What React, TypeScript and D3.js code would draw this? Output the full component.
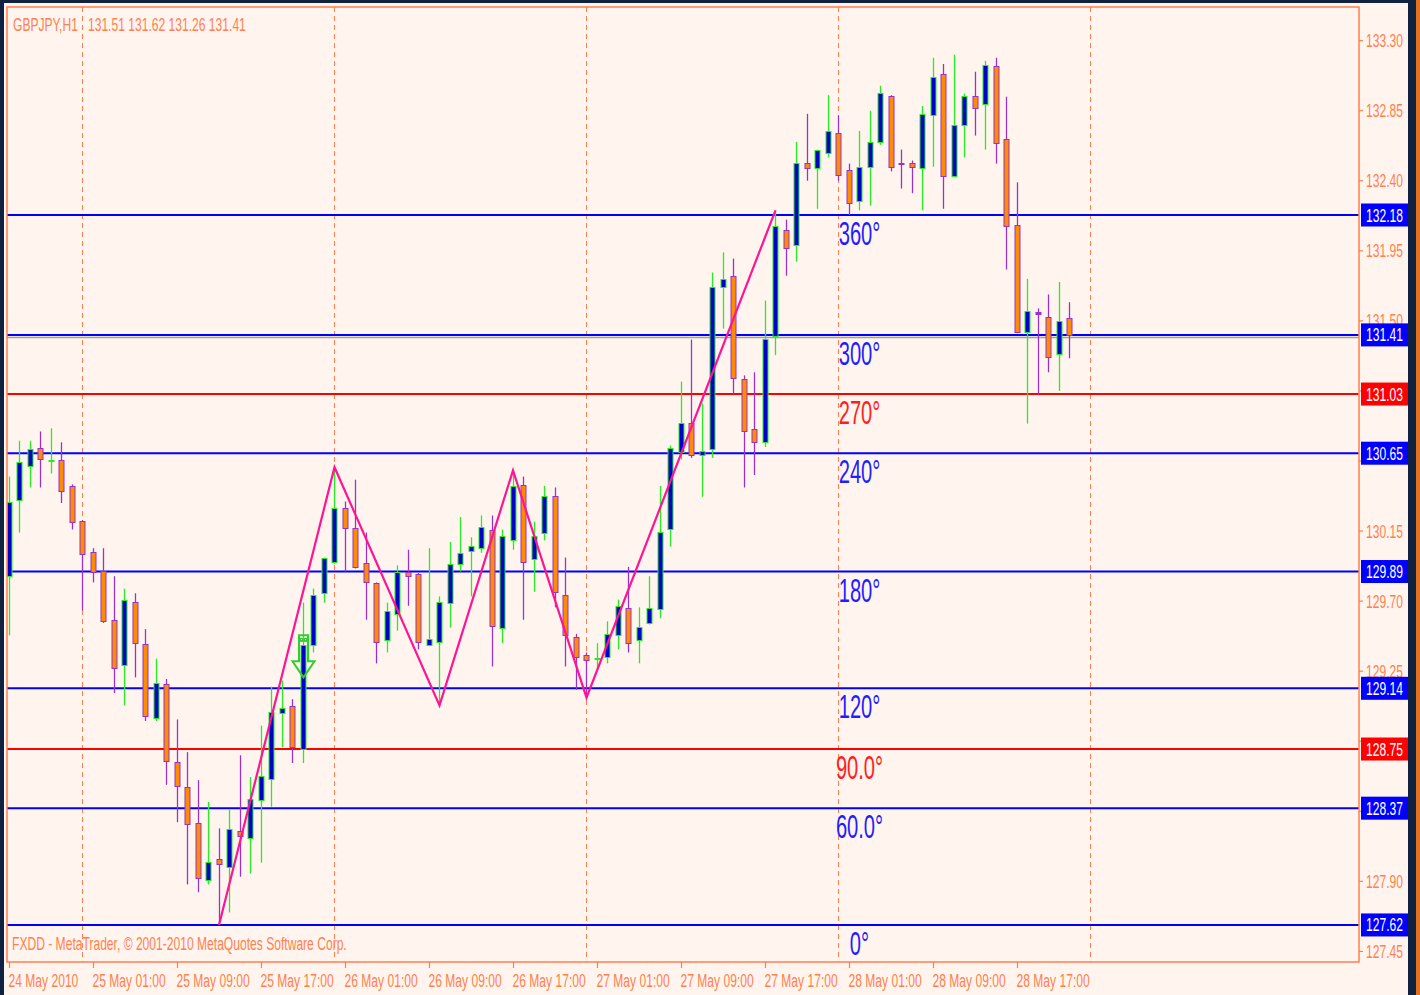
import React from 'react';
import * as d3 from 'd3';

// ---------- data ----------
const chartTitle = 'GBPJPY,H1   131.51 131.62 131.26 131.41';
const copyrightText = 'FXDD - MetaTrader, © 2001-2010 MetaQuotes Software Corp.';

const opens = [
  129.86, 130.35, 130.57, 130.68, 130.60, 130.60, 130.43, 130.21, 130.01, 129.89,
  129.57, 129.29, 129.69, 129.42, 128.95, 129.16, 128.66, 128.50, 128.27, 127.91,
  128.04, 127.99, 128.22, 128.18, 128.42, 128.56, 128.98, 129.02, 128.75, 129.42,
  129.75, 129.95, 130.29, 130.16, 129.94, 129.81, 129.45, 129.62, 129.88, 129.87,
  129.42, 129.44, 129.69, 129.94, 130.02, 130.04, 130.15, 129.53, 130.09, 130.44,
  129.97, 130.14, 130.37, 129.73, 129.46, 129.35, 129.33, 129.34, 129.48, 129.65,
  129.45, 129.56, 129.65, 130.16, 130.66, 130.84, 130.64, 130.68, 131.72, 131.78,
  131.12, 130.80, 130.72, 131.40, 132.08, 131.99, 132.51, 132.48, 132.58, 132.70,
  132.46, 132.27, 132.49, 132.65, 132.94, 132.51, 132.51, 132.48, 132.82, 133.08,
  132.43, 132.76, 132.94, 132.89, 133.13, 132.66, 132.11, 131.43, 131.55, 131.52,
  131.29, 131.51,
];
const highs = [
  130.50, 130.73, 130.73, 130.79, 130.81, 130.72, 130.45, 130.22, 130.04, 130.04,
  129.86, 129.78, 129.75, 129.52, 129.33, 129.20, 128.94, 128.73, 128.55, 128.41,
  128.24, 128.36, 128.71, 128.57, 128.90, 129.15, 129.19, 129.07, 129.69, 129.78,
  129.98, 130.56, 130.34, 130.48, 130.14, 129.82, 129.69, 129.93, 130.03, 129.88,
  130.04, 129.73, 130.08, 130.24, 130.11, 130.25, 130.25, 130.16, 130.54, 130.50,
  130.21, 130.44, 130.43, 129.98, 129.49, 129.37, 129.43, 129.57, 129.71, 129.92,
  129.66, 129.86, 130.44, 130.70, 131.11, 131.38, 130.97, 131.81, 131.94, 131.90,
  131.15, 131.17, 131.63, 132.21, 132.15, 132.65, 132.83, 132.60, 132.95, 132.82,
  132.51, 132.72, 132.85, 133.01, 132.95, 132.60, 132.53, 132.88, 133.19, 133.15,
  133.21, 132.96, 133.10, 133.17, 133.19, 132.94, 132.39, 131.77, 131.58, 131.67,
  131.75, 131.62,
];
const lows = [
  129.48, 130.14, 130.43, 130.43, 130.52, 130.33, 130.16, 129.64, 129.82, 129.56,
  129.11, 129.03, 129.21, 128.93, 128.93, 128.52, 128.28, 127.88, 127.83, 127.88,
  127.62, 127.70, 127.93, 127.95, 128.02, 128.38, 128.76, 128.66, 128.66, 129.37,
  129.69, 129.94, 129.89, 129.91, 129.58, 129.30, 129.37, 129.51, 129.67, 129.39,
  129.41, 129.03, 129.53, 129.89, 129.73, 130.01, 129.28, 129.43, 130.03, 129.58,
  129.76, 130.09, 129.66, 129.28, 129.13, 129.08, 129.26, 129.30, 129.39, 129.37,
  129.30, 129.55, 129.59, 130.05, 130.61, 130.62, 130.37, 130.62, 131.45, 131.03,
  130.43, 130.51, 130.69, 131.28, 131.79, 131.88, 132.40, 132.22, 132.55, 132.40,
  132.18, 132.21, 132.24, 132.63, 132.46, 132.35, 132.32, 132.21, 132.49, 132.22,
  132.43, 132.55, 132.69, 132.60, 132.51, 131.83, 131.42, 130.84, 131.03, 131.17,
  131.05, 131.26,
];
const closes = [
  130.33, 130.59, 130.67, 130.61, 130.60, 130.41, 130.21, 130.00, 129.89, 129.57,
  129.27, 129.70, 129.43, 128.96, 129.17, 128.67, 128.51, 128.27, 127.92, 128.02,
  128.01, 128.23, 128.19, 128.42, 128.57, 128.98, 129.01, 128.76, 129.41, 129.73,
  129.97, 130.29, 130.17, 129.92, 129.82, 129.44, 129.63, 129.88, 129.86, 129.44,
  129.45, 129.69, 129.93, 130.00, 130.05, 130.17, 129.54, 130.11, 130.43, 129.95,
  130.11, 130.37, 129.76, 129.48, 129.34, 129.32, 129.33, 129.48, 129.66, 129.43,
  129.53, 129.65, 130.14, 130.68, 130.84, 130.64, 130.66, 131.71, 131.76, 131.13,
  130.79, 130.72, 131.38, 132.10, 131.97, 132.51, 132.48, 132.59, 132.71, 132.44,
  132.26, 132.48, 132.64, 132.96, 132.49, 132.50, 132.49, 132.82, 133.06, 132.43,
  132.75, 132.94, 132.87, 133.14, 132.64, 132.11, 131.43, 131.56, 131.54, 131.27,
  131.49, 131.41,
];

const timeTickBars = [0, 8, 16, 24, 32, 40, 48, 56, 64, 72, 80, 88, 96];
const timeTickLabels = [
  '24 May 2010', '25 May 01:00', '25 May 09:00', '25 May 17:00', '26 May 01:00',
  '26 May 09:00', '26 May 17:00', '27 May 01:00', '27 May 09:00', '27 May 17:00',
  '28 May 01:00', '28 May 09:00', '28 May 17:00',
];
const daySeparatorBars = [7, 31, 55, 79, 103];

const priceTicks = [133.3, 132.85, 132.4, 131.95, 131.5, 131.05, 130.6, 130.15, 129.7, 129.25, 128.8, 128.35, 127.9, 127.45];

const gannLabels = ['0°', '60.0°', '90.0°', '120°', '180°', '240°', '270°', '300°', '360°'];
const gannPrices = [127.62, 128.37, 128.75, 129.14, 129.89, 130.65, 131.03, 131.41, 132.18];
const gannKinds = ['blue', 'blue', 'red', 'blue', 'blue', 'blue', 'red', 'blue', 'blue'];
const gannLabelBar = 81;

const zigzagBars = [20, 31, 41, 48, 55, 73];
const zigzagPrices = [127.62, 130.56, 129.03, 130.54, 129.08, 132.21];

const signalBar = 28;
const signalPrice = 129.48;
const bidPrice = 131.4;

// ---------- layout / style ----------
const W = 1420;
const H = 995;
const PL = 7, PR = 1359, PT = 7, PB = 962;
const FONT = "'Liberation Sans', Arial, sans-serif";
const SX = 0.65;
const AXIS_FS = 18.6;
const CORAL = '#FF7F50';
const BG = '#FFF5EE';
const OUTER = '#10223F';
const BLUE = '#0000FF';
const RED = '#FF0000';
const BULL_BODY = '#0000C8';
const BULL_LINE = '#22EE22';
const BEAR_BODY = '#FF8C00';
const BEAR_LINE = '#9932CC';

function T(props: any) {
  const { x, y, size = AXIS_FS, sx = SX, fill = CORAL, anchor = 'start', children } = props;
  return (
    <text
      transform={`translate(${x},${y}) scale(${sx},1)`}
      fontSize={size}
      fontFamily={FONT}
      fill={fill}
      textAnchor={anchor}
      style={{ whiteSpace: 'pre' }}
    >
      {children}
    </text>
  );
}

export default function App() {
  const y = d3.scaleLinear().domain([127.382, 133.516]).range([PB, PT]);
  const x = d3.scaleLinear().domain([0, 1]).range([9, 19.5]);

  const candles = opens.map((o, i) => {
    const c = closes[i];
    const bull = c >= o;
    const cx = Math.floor(x(i));
    const line = bull ? BULL_LINE : BEAR_LINE;
    const body = bull ? BULL_BODY : BEAR_BODY;
    const yTop = Math.round(y(Math.max(o, c)));
    const yBot = Math.round(y(Math.min(o, c)));
    const h = yBot - yTop;
    return (
      <g key={i}>
        <line x1={cx + 0.5} x2={cx + 0.5} y1={y(highs[i])} y2={y(lows[i])} stroke={line} strokeWidth={1.3} />
        {h < 3 ? (
          <rect x={cx - 2.5} y={yTop - 1} width={6} height={Math.max(2, h + 1)} fill={line} />
        ) : (
          <g>
            <rect x={cx - 2.5} y={yTop - 1} width={6} height={h + 2} fill={line} />
            <rect x={cx - 1.5} y={yTop} width={4} height={h} fill={body} />
          </g>
        )}
      </g>
    );
  });

  const zz = d3
    .line<number>()
    .x((b) => x(b))
    .y((_, k) => y(zigzagPrices[k]))(zigzagBars);

  const ax = Math.floor(x(signalBar)) + 0.5;
  const ay = y(signalPrice);
  const arrowPath = `M${ax - 4.5},${ay} L${ax + 4.5},${ay} L${ax + 4.5},${ay + 26} L${ax + 11},${ay + 26} L${ax},${ay + 42} L${ax - 11},${ay + 26} L${ax - 4.5},${ay + 26} Z`;

  const labelX = x(gannLabelBar);
  const hiddenByBox = (p: number) => gannPrices.some((g) => Math.abs(y(g) - y(p)) < 8);

  return (
    <div style={{ position: 'absolute', left: 0, top: 0, width: W, height: H, background: OUTER }}>
      <svg width={W} height={H} style={{ display: 'block' }}>
        <rect x={0} y={0} width={W} height={H} fill={OUTER} />
        <rect x={1416} y={0} width={4} height={H} fill="#E2721E" />
        <rect x={4} y={3} width={1404} height={H - 3} fill={BG} />
        <defs>
          <clipPath id="plot">
            <rect x={PL} y={PT} width={PR - PL} height={PB - PT} />
          </clipPath>
        </defs>

        <g clipPath="url(#plot)">
          {daySeparatorBars.map((b) => (
            <line key={b} x1={Math.floor(x(b)) + 0.5} x2={Math.floor(x(b)) + 0.5} y1={PT} y2={PB}
              stroke={CORAL} strokeWidth={1} strokeDasharray="5,4" />
          ))}
          <line x1={PL} x2={PR} y1={y(bidPrice) + 1} y2={y(bidPrice) + 1} stroke="#A0A0A0" strokeWidth={1.5} />
          {gannPrices.map((p, k) => (
            <line key={k} x1={PL} x2={PR} y1={y(p)} y2={y(p)} stroke={gannKinds[k] === 'red' ? RED : BLUE} strokeWidth={2} />
          ))}
          {candles}
          <path d={zz || ''} fill="none" stroke="#FF1493" strokeWidth={2.2} />
          <path d={arrowPath} fill="none" stroke="#33CC33" strokeWidth={2} strokeLinejoin="miter" />
          <rect x={ax - 3} y={ay + 3} width={2} height={3} fill="none" stroke="#33CC33" strokeWidth={1} />
          <rect x={ax + 1} y={ay + 3} width={2} height={3} fill="none" stroke="#33CC33" strokeWidth={1} />
          {gannPrices.map((p, k) => (
            <T key={k} x={labelX} y={y(p) + 30} size={32.5} sx={0.62} anchor="middle"
              fill={gannKinds[k] === 'red' ? '#FF1E1E' : '#1E1EFF'}>
              {gannLabels[k]}
            </T>
          ))}
          <T x={13} y={31}>{chartTitle}</T>
          <T x={12} y={950}>{copyrightText}</T>
        </g>

        <rect x={PL} y={PT} width={PR - PL} height={PB - PT} fill="none" stroke={CORAL} strokeWidth={1.5} />

        {priceTicks.map((p) => (
          <g key={p}>
            <line x1={PR} x2={PR + 4} y1={y(p)} y2={y(p)} stroke={CORAL} strokeWidth={1.2} />
            {!hiddenByBox(p) && <T x={PR + 7} y={y(p) + 6.5}>{p.toFixed(2)}</T>}
          </g>
        ))}
        {gannPrices.map((p, k) => (
          <g key={k}>
            <rect x={PR + 2} y={y(p) - 11.5} width={47} height={23} fill={gannKinds[k] === 'red' ? RED : BLUE} />
            <T x={PR + 7} y={y(p) + 6.5} fill="#FFFFFF">{p.toFixed(2)}</T>
          </g>
        ))}

        {timeTickBars.map((b, k) => {
          const tx = Math.floor(x(b)) + 0.5;
          return (
            <g key={b}>
              <line x1={tx} x2={tx} y1={PB} y2={PB + 6} stroke={CORAL} strokeWidth={1.2} />
              <T x={tx - 1} y={987}>{timeTickLabels[k]}</T>
            </g>
          );
        })}
      </svg>
    </div>
  );
}
